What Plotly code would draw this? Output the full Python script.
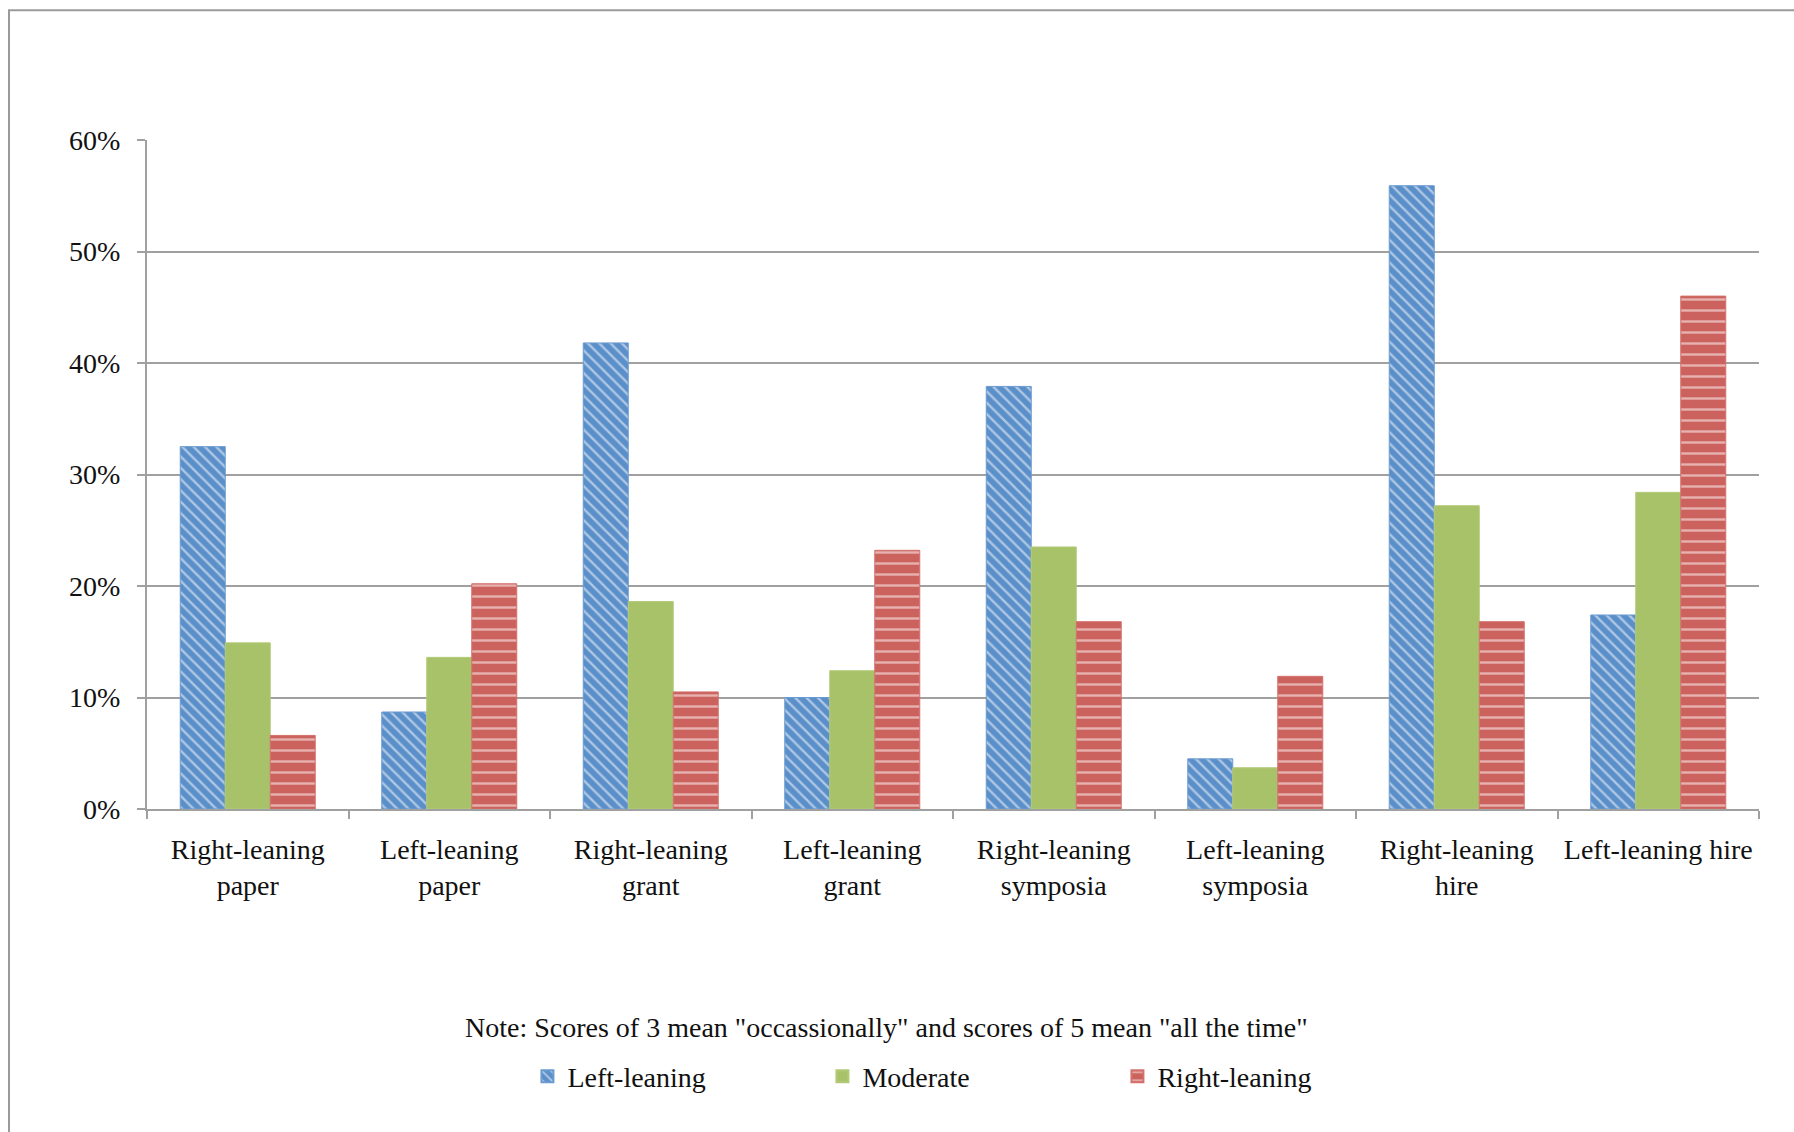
import plotly.graph_objects as go

# Survey results: share of respondents scoring 3 or higher, by political leaning
categories = [
    "Right-leaning<br>paper", "Left-leaning<br>paper",
    "Right-leaning<br>grant", "Left-leaning<br>grant",
    "Right-leaning<br>symposia", "Left-leaning<br>symposia",
    "Right-leaning<br>hire", "Left-leaning hire",
]
left_leaning = [0.325, 0.087, 0.418, 0.100, 0.379, 0.045, 0.559, 0.174]
moderate = [0.149, 0.136, 0.186, 0.124, 0.235, 0.037, 0.272, 0.284]
right_leaning = [0.066, 0.202, 0.105, 0.232, 0.168, 0.119, 0.168, 0.460]

y_ticks = [0, 0.1, 0.2, 0.3, 0.4, 0.5, 0.6]

FONT = "Liberation Serif"
SIZE = 28
BLUE = "#5b8fc9"
GREEN = "#a8c26a"
RED = "#cc625d"

fig = go.Figure()
fig.add_trace(go.Bar(
    name="Left-leaning", x=categories, y=left_leaning,
    marker=dict(color=BLUE, line=dict(color="#6a9bd0", width=1),
                pattern=dict(shape="\\", fgcolor="white", bgcolor=BLUE,
                             size=8, solidity=0.3, fillmode="overlay")),
))
fig.add_trace(go.Bar(
    name="Moderate", x=categories, y=moderate,
    marker=dict(color=GREEN, line=dict(color="#b2ca78", width=1)),
))
fig.add_trace(go.Bar(
    name="Right-leaning", x=categories, y=right_leaning,
    marker=dict(color=RED, line=dict(color="#d4716c", width=1),
                pattern=dict(shape="-", fgcolor="white", bgcolor=RED,
                             size=11, solidity=0.22, fillmode="overlay")),
))

fig.update_layout(
    width=1794, height=1132,
    margin=dict(l=147, r=35, t=140, b=323, autoexpand=False),
    paper_bgcolor="white", plot_bgcolor="white",
    barmode="group", bargap=0.33, bargroupgap=0,
    font=dict(family=FONT, size=SIZE, color="#111111"),
    showlegend=True,
    legend=dict(
        orientation="h", x=0.236, y=-0.40, xanchor="left", yanchor="middle",
        entrywidth=250, entrywidthmode="pixels",
        font=dict(family=FONT, size=SIZE), itemsizing="constant",
        bgcolor="rgba(0,0,0,0)",
    ),
    xaxis=dict(
        showline=True, linecolor="#a0a0a0", linewidth=2,
        ticks="outside", ticklen=8, tickcolor="#a0a0a0", tickwidth=2,
        tickson="boundaries", ticklabelstandoff=14, tickangle=0,
        automargin=False,
        tickfont=dict(family=FONT, size=SIZE),
        showgrid=False,
    ),
    yaxis=dict(
        range=[0, 0.6], tickvals=y_ticks, tickformat=".0%",
        showline=True, linecolor="#a0a0a0", linewidth=2,
        ticks="outside", ticklen=8, tickcolor="#a0a0a0", tickwidth=2,
        ticklabelstandoff=11, automargin=False,
        showgrid=True, gridcolor="#a0a0a0", gridwidth=2,
        zeroline=False,
        tickfont=dict(family=FONT, size=SIZE),
    ),
    annotations=[dict(
        text='Note: Scores of 3 mean "occassionally" and scores of 5 mean "all the time"',
        xref="paper", yref="paper", x=0.459, y=-0.326,
        xanchor="center", yanchor="middle", showarrow=False,
        font=dict(family=FONT, size=SIZE),
    )],
    shapes=[dict(
        type="rect", xref="paper", yref="paper",
        x0=-0.0856, x1=1.5, y0=-1.0, y1=1.194,
        line=dict(color="#9a9a9a", width=2), fillcolor="rgba(0,0,0,0)",
        layer="below",
    )],
)

fig.write_html("out.html")
